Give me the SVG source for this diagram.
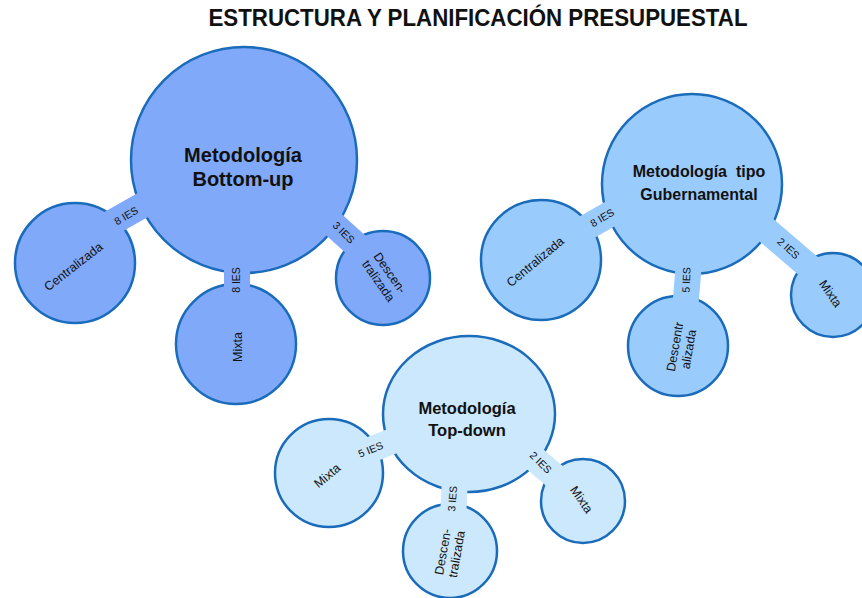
<svg xmlns="http://www.w3.org/2000/svg" width="862" height="598" viewBox="0 0 862 598">
<style>
text{font-family:"Liberation Sans",Arial,sans-serif;fill:#111;}
.c{stroke:#1a6cbb;stroke-width:2.5;}
.bu{fill:#80a9fa;}
.gu{fill:#9acbfd;}
.td{fill:#cce8fc;}
.band{stroke-width:26;stroke-linecap:butt;fill:none;}
.bbu{stroke:#80a9fa;}
.bgu{stroke:#9acbfd;}
.btd{stroke:#cce8fc;}
.lbl{font-size:10.5px;text-anchor:middle;}
.nt{font-size:12.5px;text-anchor:middle;}
.mt{font-weight:bold;text-anchor:middle;}
</style>
<rect width="862" height="598" fill="#fff"/>
<text x="478" y="26" font-size="23" font-weight="bold" text-anchor="middle" textLength="539" lengthAdjust="spacingAndGlyphs">ESTRUCTURA Y PLANIFICACIÓN  PRESUPUESTAL</text>

<!-- Bottom-up cluster -->
<g id="bu-main"><circle class="c bu" cx="244" cy="160" r="113"/></g>
<g id="bu-cent"><circle class="c bu" cx="75" cy="263" r="60"/></g>
<g id="bu-mixta"><circle class="c bu" cx="236" cy="344" r="60"/></g>
<g id="bu-desc"><circle class="c bu" cx="383" cy="278" r="47"/></g>

<!-- Gubernamental cluster -->
<g id="gu-main"><circle class="c gu" cx="692" cy="184" r="90"/></g>
<g id="gu-cent"><circle class="c gu" cx="541" cy="260" r="60"/></g>
<g id="gu-desc"><circle class="c gu" cx="678" cy="346" r="50"/></g>
<g id="gu-mixta"><circle class="c gu" cx="833" cy="295" r="42"/></g>

<!-- Top-down cluster -->
<g id="td-main"><ellipse class="c td" cx="469" cy="414" rx="86" ry="78"/></g>
<g id="td-mixta1"><circle class="c td" cx="329" cy="473" r="54"/></g>
<g id="td-desc"><circle class="c td" cx="450" cy="551" r="47"/></g>
<g id="td-mixta2"><circle class="c td" cx="583" cy="501" r="42"/></g>

<g id="connectors">
  <line class="band bbu" x1="104" y1="227" x2="150" y2="201"/>
  <line class="band bbu" x1="237" y1="262" x2="237" y2="298"/>
  <line class="band bbu" x1="321" y1="213" x2="364" y2="252"/>
  <line class="band bgu" x1="577" y1="233" x2="629" y2="203"/>
  <line class="band bgu" x1="689" y1="262" x2="685" y2="310"/>
  <line class="band bgu" x1="765" y1="229" x2="820" y2="276"/>
  <line class="band btd" x1="350" y1="458" x2="395" y2="440"/>
  <line class="band btd" x1="455" y1="478" x2="453" y2="518"/>
  <line class="band btd" x1="522" y1="448" x2="565" y2="485"/>
  <text class="lbl" transform="translate(128,219) rotate(-30)">8 IES</text>
  <text class="lbl" transform="translate(240,280) rotate(-90)">8 IES</text>
  <text class="lbl" transform="translate(341,235) rotate(45)">3 IES</text>
  <text class="lbl" transform="translate(604,221) rotate(-30)">8 IES</text>
  <text class="lbl" transform="translate(690,280) rotate(-88)">5 IES</text>
  <text class="lbl" transform="translate(786,251) rotate(42)">2 IES</text>
  <text class="lbl" transform="translate(372,453) rotate(-22)">5 IES</text>
  <text class="lbl" transform="translate(456,499) rotate(-85)">3 IES</text>
  <text class="lbl" transform="translate(538,465) rotate(45)">2 IES</text>
</g>

<g id="bu-main-text"><text class="mt" font-size="20"><tspan x="243" y="162">Metodología</tspan><tspan x="243" y="186">Bottom-up</tspan></text></g>
<g id="bu-cent-text"><text class="nt" transform="translate(76,270) rotate(-38)">Centralizada</text></g>
<g id="bu-mixta-text"><text class="nt" transform="translate(242,347) rotate(-90)">Mixta</text></g>
<g id="bu-desc-text"><text class="nt" transform="translate(384,277) rotate(55)"><tspan x="0" y="-3">Descen-</tspan><tspan x="0" y="11">tralizada</tspan></text></g>

<g id="gu-main-text"><text class="mt" font-size="16"><tspan x="699" y="177" xml:space="preserve">Metodología  tipo</tspan><tspan x="699" y="200">Gubernamental</tspan></text></g>
<g id="gu-cent-text"><text class="nt" transform="translate(538,265) rotate(-40)">Centralizada</text></g>
<g id="gu-desc-text"><text class="nt" transform="translate(682,348) rotate(-80)"><tspan x="0" y="-3">Descentr</tspan><tspan x="0" y="11">alizada</tspan></text></g>
<g id="gu-mixta-text"><text class="nt" transform="translate(827,296) rotate(55)">Mixta</text></g>

<g id="td-main-text"><text class="mt" font-size="16.5"><tspan x="467" y="414">Metodología</tspan><tspan x="467" y="436">Top-down</tspan></text></g>
<g id="td-mixta1-text"><text class="nt" transform="translate(330,479) rotate(-40)">Mixta</text></g>
<g id="td-desc-text"><text class="nt" transform="translate(450,553) rotate(-80)"><tspan x="0" y="-3">Descen-</tspan><tspan x="0" y="11">tralizada</tspan></text></g>
<g id="td-mixta2-text"><text class="nt" transform="translate(578,502) rotate(55)">Mixta</text></g>
</svg>
